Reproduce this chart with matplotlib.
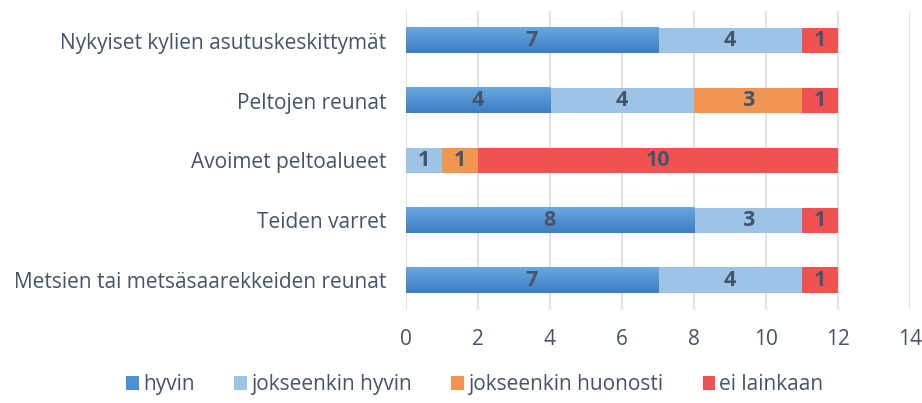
import numpy as np
import matplotlib.pyplot as plt
from matplotlib.colors import LinearSegmentedColormap

# data
categories = ['Nykyiset kylien asutuskeskittymät', 'Peltojen reunat', 'Avoimet peltoalueet',
              'Teiden varret', 'Metsien tai metsäsaarekkeiden reunat']
series = ['hyvin', 'jokseenkin hyvin', 'jokseenkin huonosti', 'ei lainkaan']
hyvin = [7, 4, 0, 8, 7]
jok_hyvin = [4, 4, 1, 3, 4]
jok_huonosti = [0, 3, 1, 0, 0]
ei_lainkaan = [1, 1, 10, 1, 1]
values = [hyvin, jok_hyvin, jok_huonosti, ei_lainkaan]
colors = ['#4e90d6', '#9dc3e6', '#f09552', '#f05252']

text_col = '#44546a'
plt.rcParams['font.family'] = ['Open Sans', 'DejaVu Sans']

fig = plt.figure(figsize=(9.22, 4.03), dpi=100)
ax = fig.add_axes([0.440, 0.231, 0.547, 0.742])

y = np.arange(len(categories))
left = np.zeros(len(categories))
grad = LinearSegmentedColormap.from_list('g', ['#6aa7e0', '#3c7dc4'])
for vals, name, col in zip(values, series, colors):
    bars = ax.barh(y, vals, left=left, height=0.42, color=col, label=name, zorder=2)
    if name == 'hyvin':
        # gradient fill like the original
        for b in bars:
            if b.get_width() == 0:
                continue
            x0, y0 = b.get_x(), b.get_y()
            x1, y1 = x0 + b.get_width(), y0 + b.get_height()
            ax.imshow(np.linspace(0, 1, 50).reshape(-1, 1), cmap=grad, aspect='auto',
                      extent=[x0, x1, y1, y0], zorder=2.5, interpolation='bilinear')
    for b, v in zip(bars, vals):
        if v > 0:
            ax.text(b.get_x() + b.get_width() / 2, b.get_y() + b.get_height() / 2, str(v),
                    ha='center', va='center', fontsize=15.5, fontweight='bold', color=text_col, zorder=3)
    left += np.array(vals)

ax.set_xlim(0, 14)
ax.set_ylim(len(categories) - 0.5, -0.5)
ax.set_xticks(range(0, 15, 2))
ax.set_yticks(y)
ax.set_yticklabels(categories)
ax.tick_params(axis='both', length=0, labelsize=15, colors=text_col)
ax.tick_params(axis='x', pad=14)
ax.tick_params(axis='y', pad=14)
ax.grid(axis='x', color='#e1e5ea', linewidth=1.5, zorder=0)
for s in ax.spines.values():
    s.set_visible(False)

fig.legend(loc='center', bbox_to_anchor=(0.515, 0.045), ncol=4, frameon=False, fontsize=15,
           handlelength=0.6, handleheight=0.6, handletextpad=0.2, columnspacing=1.9,
           labelcolor=text_col)

plt.savefig('out.png')
